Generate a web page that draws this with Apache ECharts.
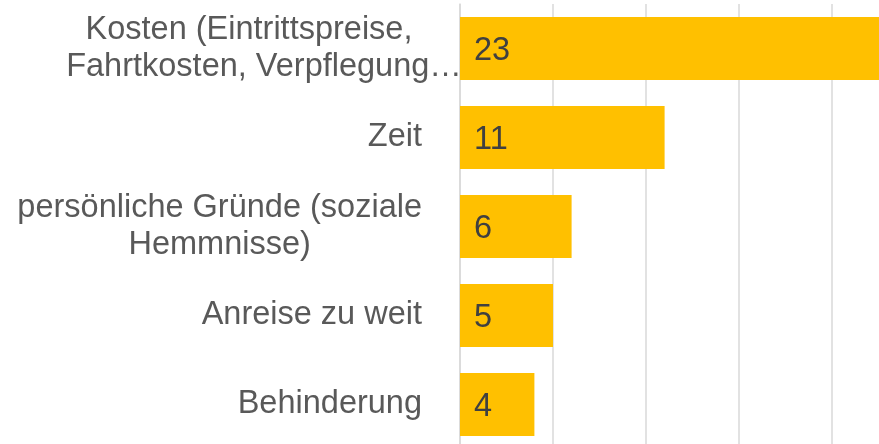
<!DOCTYPE html>
<html>
<head>
<meta charset="utf-8">
<script src="https://cdn.jsdelivr.net/npm/echarts@6/dist/echarts.min.js"></script>
<style>
html,body{margin:0;padding:0;background:#fff;}
#chart{width:879px;height:444px;}
</style>
</head>
<body>
<div id="chart"></div>
<script>
const categories = [
  'Kosten (Eintrittspreise,\nFahrtkosten, Verpflegung…',
  'Zeit',
  'persönliche Gründe (soziale\nHemmnisse)',
  'Anreise zu weit',
  'Behinderung'
];
const values = [23, 11, 6, 5, 4];

const font = "'Liberation Sans', Arial, sans-serif";
const fs = 32.5;

function fmt(v) {
  const lines = v.split('\n');
  if (lines.length === 1) return v;
  if (v.indexOf('Kosten') === 0) {
    return '{k1|' + lines[0] + '}\n{c|' + lines[1] + '}';
  }
  return lines.map(l => '{c|' + l + '}').join('\n');
}

const yData = categories.map((c, i) => {
  if (i === 0) {
    return { value: c, textStyle: { align: 'center', padding: [0, 316, 0, 0] } };
  }
  return c;
});

const chart = echarts.init(document.getElementById('chart'), null, { renderer: 'canvas' });
chart.setOption({
  animation: false,
  grid: { left: 460, right: -46, top: 4, bottom: -5, outerBoundsMode: 'none', containLabel: false },
  xAxis: {
    type: 'value', min: 0, max: 25, interval: 5,
    axisLabel: { show: false },
    axisLine: { show: false },
    axisTick: { show: false },
    splitLine: { show: true, lineStyle: { color: '#d9d9d9', width: 1.5 } }
  },
  yAxis: {
    type: 'category', inverse: true, data: yData,
    axisTick: { show: false },
    axisLine: { show: true, lineStyle: { color: '#d9d9d9', width: 1.5 } },
    axisLabel: {
      interval: 0, margin: 38, color: '#595959', fontSize: fs, fontFamily: font,
      lineHeight: 37, hideOverlap: false,
      formatter: fmt,
      rich: {
        c: { align: 'center', color: '#595959', fontSize: fs, fontFamily: font, lineHeight: 37 },
        k1: { align: 'center', color: '#595959', fontSize: fs, fontFamily: font, lineHeight: 37, padding: [0, 30, 0, 0] }
      }
    }
  },
  series: [{
    type: 'bar', data: values, barWidth: 63,
    itemStyle: { color: '#FFC000' },
    label: {
      show: true, position: 'insideLeft', distance: 14,
      color: '#404040', fontSize: fs, fontFamily: font,
      offset: [0, 3]
    }
  }]
});
</script>
</body>
</html>
